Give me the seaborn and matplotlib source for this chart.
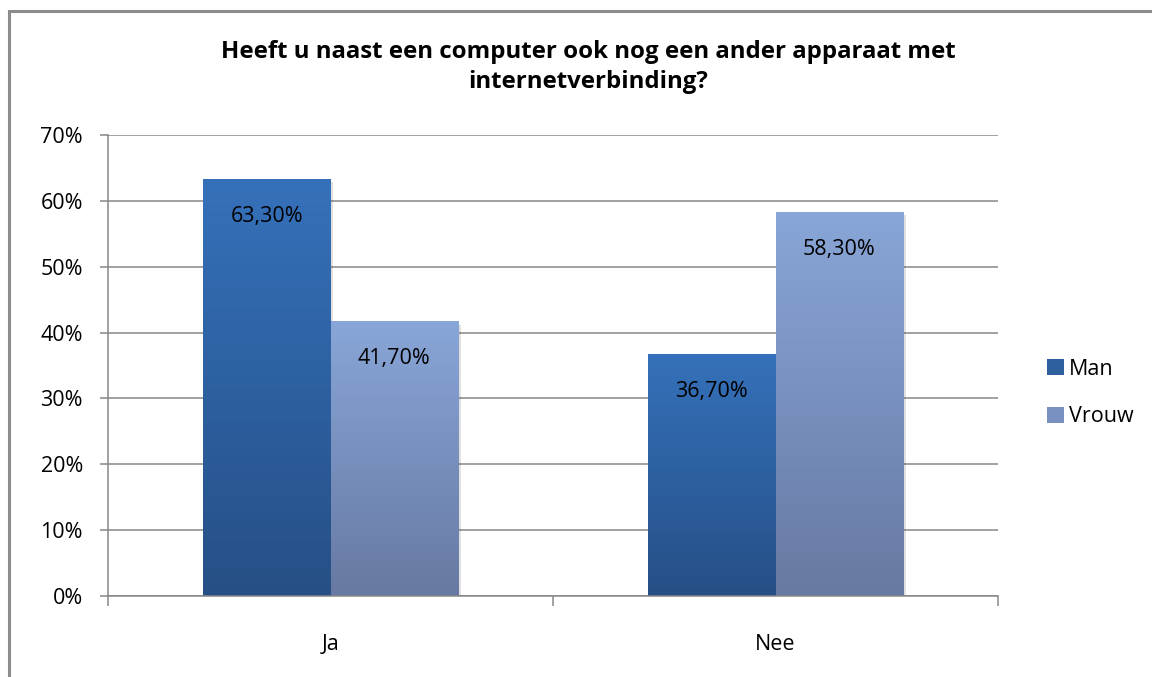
import numpy as np
import pandas as pd
import matplotlib
matplotlib.use("Agg")
import matplotlib.pyplot as plt
import seaborn as sns
from matplotlib.colors import LinearSegmentedColormap
from matplotlib.patches import Rectangle
from matplotlib.ticker import FixedLocator

# Survey answers per gender (percent)
categories = ["Ja", "Nee"]
series_names = ["Man", "Vrouw"]
man_values = [63.3, 36.7]
vrouw_values = [41.7, 58.3]
y_ticks = [0, 10, 20, 30, 40, 50, 60, 70]
title = "Heeft u naast een computer ook nog een ander apparaat met\ninternetverbinding?"

df = pd.DataFrame({
    "antwoord": categories * 2,
    "geslacht": [series_names[0]] * 2 + [series_names[1]] * 2,
    "waarde": man_values + vrouw_values,
})

# gradient colours (top, bottom) per series
grad = {
    "Man": ("#3571BA", "#264F86"),
    "Vrouw": ("#88A6D8", "#6779A2"),
}
solid = {"Man": "#2E60A0", "Vrouw": "#7891C0"}

sns.set_theme(style="white")
plt.rcParams["font.family"] = ["Open Sans", "DejaVu Sans"]
plt.rcParams["text.color"] = "black"
FS = 15.5

fig = plt.figure(figsize=(11.52, 6.77), dpi=100)
ax = fig.add_axes([108 / 1152, 1 - 596 / 677, (998 - 108) / 1152, (596 - 135) / 677])

sns.barplot(data=df, x="antwoord", y="waarde", hue="geslacht", order=categories,
            hue_order=series_names, palette=solid, width=0.573, gap=0,
            saturation=1, ax=ax, legend=False, edgecolor="none", linewidth=0)

ax.set_xlim(-0.5, len(categories) - 0.5)
ax.set_ylim(0, 70)

# paint each bar with a vertical gradient, clipped to the bar shape
for container, name in zip(ax.containers, series_names):
    cmap = LinearSegmentedColormap.from_list(name, [grad[name][1], grad[name][0]])
    for bar in container:
        x0, y0 = bar.get_x(), bar.get_y()
        w, h = bar.get_width(), bar.get_height()
        # soft shadow below/right of the bar
        sh = Rectangle((x0 + 0.006, y0 - 0.5), w, h, facecolor="#000000", alpha=0.12,
                       zorder=bar.get_zorder() - 0.1, linewidth=0)
        ax.add_patch(sh)
        img = ax.imshow(np.linspace(0, 1, 256).reshape(-1, 1), cmap=cmap, origin="lower",
                        extent=[x0, x0 + w, y0, y0 + h], aspect="auto",
                        zorder=bar.get_zorder() + 0.1)
        img.set_clip_path(bar)
    labels = [f"{v:.2f}".replace(".", ",") + "%" for v in container.datavalues]
    for bar, lab in zip(container, labels):
        ax.annotate(lab, (bar.get_x() + bar.get_width() / 2, bar.get_height()),
                    xytext=(0, -27), textcoords="offset points", ha="center", va="center",
                    fontsize=FS, color="black", zorder=5)

ax.set_xlim(-0.5, len(categories) - 0.5)
ax.set_ylim(0, 70)

# axes styling
grid_c = "#878787"
ax.set_yticks(y_ticks)
ax.set_yticklabels([f"{t}%" for t in y_ticks], fontsize=FS)
ax.yaxis.grid(True, color=grid_c, linewidth=1.1)
ax.set_axisbelow(True)
for s in ["top", "right"]:
    ax.spines[s].set_visible(False)
for s in ["left", "bottom"]:
    ax.spines[s].set_color(grid_c)
    ax.spines[s].set_linewidth(1.1)
ax.tick_params(axis="y", which="major", left=True, length=6, width=1.1, color=grid_c,
               pad=12, labelcolor="black")
ax.tick_params(axis="x", which="major", bottom=False, pad=21, labelsize=FS,
               labelcolor="black")
ax.xaxis.set_minor_locator(FixedLocator(np.arange(-0.5, len(categories), 1.0)))
ax.tick_params(axis="x", which="minor", bottom=True, length=7, width=1.1, color=grid_c)
ax.set_xlabel("")
ax.set_ylabel("")

# title
fig.text(588 / 1152, 1 - 67 / 677, title, ha="center", va="center", fontsize=17.3,
         fontweight="bold", linespacing=1.3, color="black")

# legend
handles = [Rectangle((0, 0), 1, 1, facecolor=solid[n], edgecolor="none") for n in series_names]
fig.legend(handles, series_names, loc="center left", bbox_to_anchor=(1028 / 1152, 1 - 393 / 677),
           frameon=False, fontsize=FS, handlelength=0.75, handleheight=0.75,
           handletextpad=0.25, labelspacing=1.25, labelcolor="black")

# chart frame
fig.patches.append(Rectangle((9 / 1152, -0.2), 1.2, 1 - 11 / 677 + 0.2,
                             transform=fig.transFigure, fill=False,
                             edgecolor="#8C8C8C", linewidth=2.2))

fig.savefig("out.png", dpi=100)
